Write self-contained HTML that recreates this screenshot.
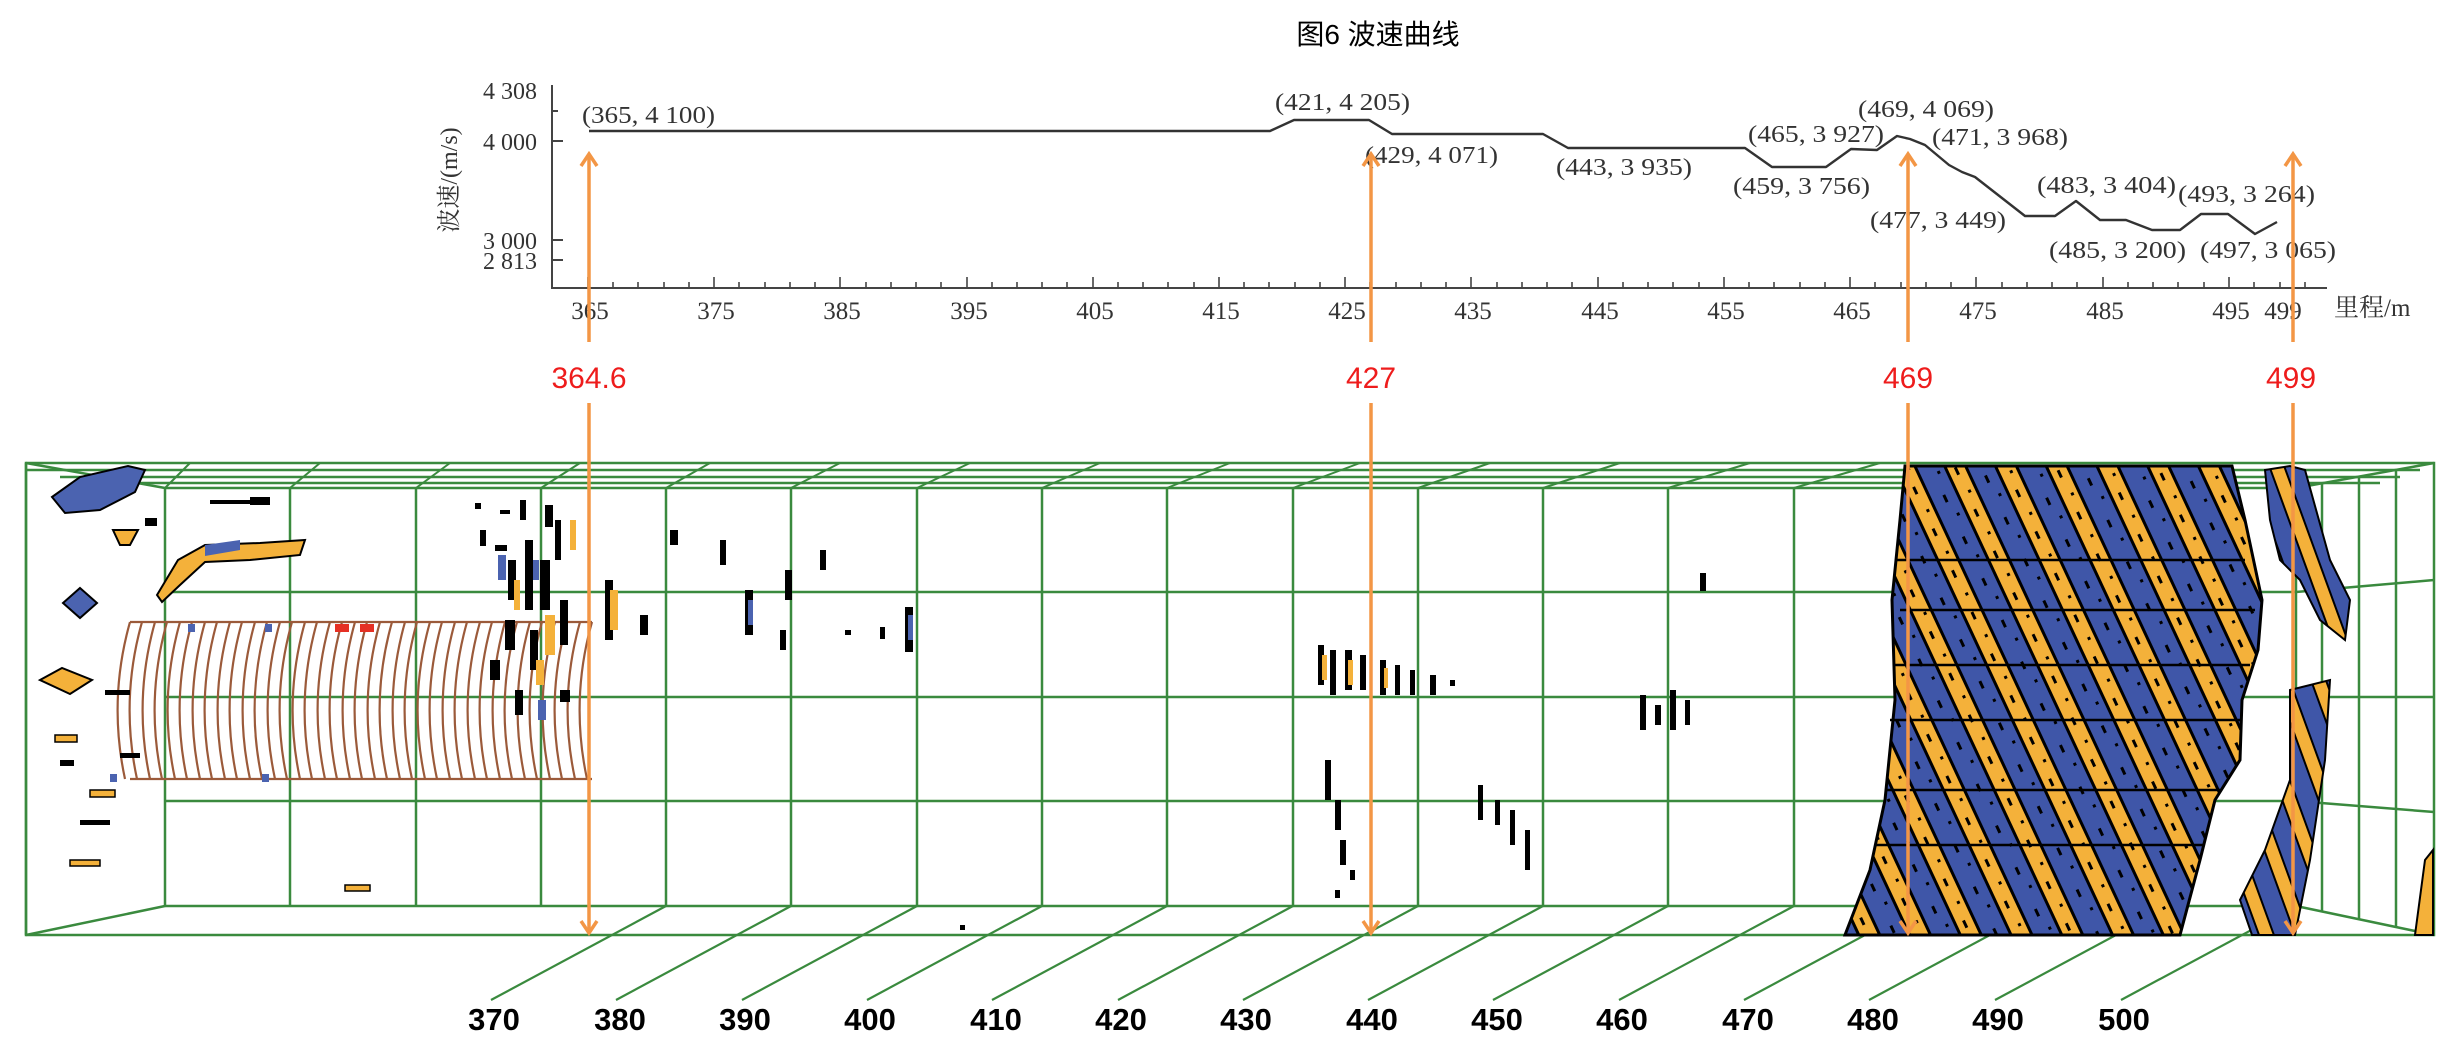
<!DOCTYPE html>
<html><head><meta charset="utf-8"><style>
html,body{margin:0;padding:0;background:#fff;}
svg{display:block;}
.s{font-family:"Liberation Serif","Noto Serif CJK SC",serif;fill:#333;}
.a{font-family:"Liberation Sans","Noto Sans CJK SC",sans-serif;}
</style></head><body>
<svg width="2445" height="1058" viewBox="0 0 2445 1058" xmlns="http://www.w3.org/2000/svg">
<defs>
<pattern id="rock" patternUnits="userSpaceOnUse" width="46" height="46" patternTransform="rotate(-25)">
<rect width="46" height="46" fill="#3f56a8"/>
<rect x="0" width="19" height="46" fill="#f4b13a"/>
<rect x="0" width="3" height="46" fill="#000"/>
<rect x="19" width="3" height="46" fill="#000"/>
<rect x="9" y="8" width="3" height="8" fill="#000"/>
<rect x="33" y="28" width="3" height="8" fill="#000"/>
<rect x="38" y="4" width="3" height="3" fill="#000"/>
<rect x="12" y="34" width="3" height="3" fill="#000"/>
</pattern>
<pattern id="rock2" patternUnits="userSpaceOnUse" width="34" height="34" patternTransform="rotate(-20)">
<rect width="34" height="34" fill="#3f56a8"/>
<rect x="0" width="14" height="34" fill="#f4b13a"/>
<rect x="0" width="2" height="34" fill="#000"/>
<rect x="14" width="2" height="34" fill="#000"/>
</pattern>
<marker id="ah" viewBox="0 0 20 20" refX="17" refY="10" markerWidth="20" markerHeight="20" markerUnits="userSpaceOnUse" orient="auto">
<path d="M5,2 L17,10 L5,18" fill="none" stroke="#f39645" stroke-width="3.5"/>
</marker>
</defs>

<text x="1378" y="44" text-anchor="middle" class="a" font-size="28" fill="#000">图6 波速曲线</text>

<g stroke="#444" stroke-width="2" fill="none">
<line x1="552" y1="85" x2="552" y2="288"/>
<line x1="551" y1="288" x2="2327" y2="288"/>
<line x1="552" y1="111" x2="558" y2="111"/>
<line x1="552" y1="141" x2="563" y2="141"/>
<line x1="552" y1="240" x2="563" y2="240"/>
<line x1="552" y1="260" x2="563" y2="260"/>
</g>
<g stroke="#444" stroke-width="1.6">
<line x1="588" y1="288" x2="588" y2="277"/><line x1="613" y1="288" x2="613" y2="282"/><line x1="638" y1="288" x2="638" y2="282"/><line x1="664" y1="288" x2="664" y2="282"/><line x1="689" y1="288" x2="689" y2="282"/>
<line x1="714" y1="288" x2="714" y2="277"/><line x1="739" y1="288" x2="739" y2="282"/><line x1="765" y1="288" x2="765" y2="282"/><line x1="790" y1="288" x2="790" y2="282"/><line x1="815" y1="288" x2="815" y2="282"/>
<line x1="840" y1="288" x2="840" y2="277"/><line x1="866" y1="288" x2="866" y2="282"/><line x1="891" y1="288" x2="891" y2="282"/><line x1="916" y1="288" x2="916" y2="282"/><line x1="941" y1="288" x2="941" y2="282"/>
<line x1="967" y1="288" x2="967" y2="277"/><line x1="992" y1="288" x2="992" y2="282"/><line x1="1017" y1="288" x2="1017" y2="282"/><line x1="1042" y1="288" x2="1042" y2="282"/><line x1="1067" y1="288" x2="1067" y2="282"/>
<line x1="1093" y1="288" x2="1093" y2="277"/><line x1="1118" y1="288" x2="1118" y2="282"/><line x1="1143" y1="288" x2="1143" y2="282"/><line x1="1168" y1="288" x2="1168" y2="282"/><line x1="1194" y1="288" x2="1194" y2="282"/>
<line x1="1219" y1="288" x2="1219" y2="277"/><line x1="1244" y1="288" x2="1244" y2="282"/><line x1="1269" y1="288" x2="1269" y2="282"/><line x1="1295" y1="288" x2="1295" y2="282"/><line x1="1320" y1="288" x2="1320" y2="282"/>
<line x1="1345" y1="288" x2="1345" y2="277"/><line x1="1370" y1="288" x2="1370" y2="282"/><line x1="1396" y1="288" x2="1396" y2="282"/><line x1="1421" y1="288" x2="1421" y2="282"/><line x1="1446" y1="288" x2="1446" y2="282"/>
<line x1="1471" y1="288" x2="1471" y2="277"/><line x1="1497" y1="288" x2="1497" y2="282"/><line x1="1522" y1="288" x2="1522" y2="282"/><line x1="1547" y1="288" x2="1547" y2="282"/><line x1="1572" y1="288" x2="1572" y2="282"/>
<line x1="1598" y1="288" x2="1598" y2="277"/><line x1="1623" y1="288" x2="1623" y2="282"/><line x1="1648" y1="288" x2="1648" y2="282"/><line x1="1673" y1="288" x2="1673" y2="282"/><line x1="1699" y1="288" x2="1699" y2="282"/>
<line x1="1724" y1="288" x2="1724" y2="277"/><line x1="1749" y1="288" x2="1749" y2="282"/><line x1="1774" y1="288" x2="1774" y2="282"/><line x1="1800" y1="288" x2="1800" y2="282"/><line x1="1825" y1="288" x2="1825" y2="282"/>
<line x1="1850" y1="288" x2="1850" y2="277"/><line x1="1875" y1="288" x2="1875" y2="282"/><line x1="1901" y1="288" x2="1901" y2="282"/><line x1="1926" y1="288" x2="1926" y2="282"/><line x1="1951" y1="288" x2="1951" y2="282"/>
<line x1="1976" y1="288" x2="1976" y2="277"/><line x1="2002" y1="288" x2="2002" y2="282"/><line x1="2027" y1="288" x2="2027" y2="282"/><line x1="2052" y1="288" x2="2052" y2="282"/><line x1="2077" y1="288" x2="2077" y2="282"/>
<line x1="2103" y1="288" x2="2103" y2="277"/><line x1="2128" y1="288" x2="2128" y2="282"/><line x1="2153" y1="288" x2="2153" y2="282"/><line x1="2178" y1="288" x2="2178" y2="282"/><line x1="2204" y1="288" x2="2204" y2="282"/>
<line x1="2229" y1="288" x2="2229" y2="277"/><line x1="2254" y1="288" x2="2254" y2="282"/><line x1="2280" y1="288" x2="2280" y2="282"/><line x1="2305" y1="288" x2="2305" y2="282"/>
</g>
<g class="s" font-size="24">
<text x="537" y="99" text-anchor="end">4 308</text>
<text x="537" y="150" text-anchor="end">4 000</text>
<text x="537" y="249" text-anchor="end">3 000</text>
<text x="537" y="269" text-anchor="end">2 813</text>
</g>
<text transform="translate(457,180) rotate(-90)" text-anchor="middle" class="s" font-size="24">波速/(m/s)</text>
<g class="s" font-size="25" text-anchor="middle">
<text x="590" y="319">365</text><text x="716" y="319">375</text><text x="842" y="319">385</text><text x="969" y="319">395</text>
<text x="1095" y="319">405</text><text x="1221" y="319">415</text><text x="1347" y="319">425</text><text x="1473" y="319">435</text>
<text x="1600" y="319">445</text><text x="1726" y="319">455</text><text x="1852" y="319">465</text><text x="1978" y="319">475</text>
<text x="2105" y="319">485</text><text x="2231" y="319">495</text><text x="2283" y="319">499</text>
</g>
<text x="2334" y="316" class="s" font-size="25">里程/m</text>

<polyline fill="none" stroke="#333" stroke-width="2.4" stroke-linejoin="round" points="589,131 1270,131 1294,120 1369,120 1392,134 1543,134 1568,148 1745,148 1772,167 1826,167 1851,149 1877,150 1897,136 1910,139 1925,145 1949,165 1962,172 1975,177 2025,216 2055,216 2076,201 2100,220 2126,220 2152,230 2180,230 2201,214 2228,214 2255,234 2277,222"/>

<g class="s" font-size="24">
<text x="582" y="123" textLength="133" lengthAdjust="spacingAndGlyphs">(365, 4 100)</text>
<text x="1275" y="110" textLength="135" lengthAdjust="spacingAndGlyphs">(421, 4 205)</text>
<text x="1365" y="163" textLength="133" lengthAdjust="spacingAndGlyphs">(429, 4 071)</text>
<text x="1556" y="175" textLength="136" lengthAdjust="spacingAndGlyphs">(443, 3 935)</text>
<text x="1748" y="142" textLength="136" lengthAdjust="spacingAndGlyphs">(465, 3 927)</text>
<text x="1858" y="117" textLength="136" lengthAdjust="spacingAndGlyphs">(469, 4 069)</text>
<text x="1932" y="145" textLength="136" lengthAdjust="spacingAndGlyphs">(471, 3 968)</text>
<text x="1733" y="194" textLength="137" lengthAdjust="spacingAndGlyphs">(459, 3 756)</text>
<text x="1870" y="228" textLength="136" lengthAdjust="spacingAndGlyphs">(477, 3 449)</text>
<text x="2037" y="193" textLength="139" lengthAdjust="spacingAndGlyphs">(483, 3 404)</text>
<text x="2178" y="202" textLength="137" lengthAdjust="spacingAndGlyphs">(493, 3 264)</text>
<text x="2049" y="258" textLength="137" lengthAdjust="spacingAndGlyphs">(485, 3 200)</text>
<text x="2200" y="258" textLength="136" lengthAdjust="spacingAndGlyphs">(497, 3 065)</text>
</g>

<g stroke="#3a8a3e" stroke-width="2.5" fill="none">
<rect x="26" y="463" width="2408" height="472"/>
<line x1="26" y1="470" x2="2420" y2="470"/>
<line x1="60" y1="477" x2="2400" y2="477"/>
<line x1="100" y1="483" x2="2380" y2="483"/>
<line x1="165" y1="488" x2="2296" y2="488"/>
<line x1="165" y1="592" x2="2296" y2="592"/>
<line x1="165" y1="697" x2="2296" y2="697"/>
<line x1="165" y1="801" x2="2296" y2="801"/>
<line x1="165" y1="906" x2="2296" y2="906"/>
<line x1="26" y1="463" x2="165" y2="488"/>
<line x1="26" y1="935" x2="165" y2="906"/>
<line x1="2434" y1="463" x2="2296" y2="488"/>
<line x1="2434" y1="935" x2="2296" y2="906"/>
<line x1="2296" y1="592" x2="2434" y2="580"/>
<line x1="2296" y1="697" x2="2434" y2="697"/>
<line x1="2296" y1="801" x2="2434" y2="812"/>
<line x1="2322" y1="482" x2="2322" y2="912"/>
<line x1="2359" y1="476" x2="2359" y2="920"/>
<line x1="2396" y1="470" x2="2396" y2="928"/>
</g>
<g stroke="#3a8a3e" stroke-width="2.5">
<line x1="165" y1="488" x2="165" y2="906"/><line x1="290" y1="488" x2="290" y2="906"/><line x1="416" y1="488" x2="416" y2="906"/><line x1="541" y1="488" x2="541" y2="906"/>
<line x1="666" y1="488" x2="666" y2="906"/><line x1="791" y1="488" x2="791" y2="906"/><line x1="917" y1="488" x2="917" y2="906"/><line x1="1042" y1="488" x2="1042" y2="906"/>
<line x1="1167" y1="488" x2="1167" y2="906"/><line x1="1293" y1="488" x2="1293" y2="906"/><line x1="1418" y1="488" x2="1418" y2="906"/><line x1="1543" y1="488" x2="1543" y2="906"/>
<line x1="1668" y1="488" x2="1668" y2="906"/><line x1="1794" y1="488" x2="1794" y2="906"/><line x1="1919" y1="488" x2="1919" y2="906"/><line x1="2044" y1="488" x2="2044" y2="906"/>
<line x1="2170" y1="488" x2="2170" y2="906"/><line x1="2296" y1="488" x2="2296" y2="906"/>
<line x1="26" y1="463" x2="26" y2="935"/>
</g>
<g stroke="#3a8a3e" stroke-width="2">
<line x1="190" y1="463" x2="165" y2="488"/><line x1="320" y1="463" x2="290" y2="488"/><line x1="450" y1="463" x2="416" y2="488"/>
<line x1="580" y1="463" x2="541" y2="488"/><line x1="710" y1="463" x2="666" y2="488"/><line x1="840" y1="463" x2="791" y2="488"/>
<line x1="970" y1="463" x2="917" y2="488"/><line x1="1100" y1="463" x2="1042" y2="488"/><line x1="1230" y1="463" x2="1167" y2="488"/>
<line x1="1360" y1="463" x2="1293" y2="488"/><line x1="1490" y1="463" x2="1418" y2="488"/><line x1="1620" y1="463" x2="1543" y2="488"/>
<line x1="1750" y1="463" x2="1668" y2="488"/><line x1="1880" y1="463" x2="1794" y2="488"/>
</g>
<g stroke="#3a8a3e" stroke-width="2.2">
<line x1="666" y1="906" x2="491" y2="1000"/><line x1="791" y1="906" x2="616" y2="1000"/><line x1="917" y1="906" x2="742" y2="1000"/>
<line x1="1042" y1="906" x2="867" y2="1000"/><line x1="1167" y1="906" x2="992" y2="1000"/><line x1="1293" y1="906" x2="1118" y2="1000"/>
<line x1="1418" y1="906" x2="1243" y2="1000"/><line x1="1543" y1="906" x2="1368" y2="1000"/><line x1="1668" y1="906" x2="1493" y2="1000"/>
<line x1="1794" y1="906" x2="1619" y2="1000"/><line x1="1919" y1="906" x2="1744" y2="1000"/><line x1="2044" y1="906" x2="1869" y2="1000"/>
<line x1="2170" y1="906" x2="1995" y2="1000"/><line x1="2296" y1="906" x2="2121" y2="1000"/>
</g>
<g class="a" font-size="31" fill="#000" text-anchor="middle" font-weight="bold">
<text x="494" y="1030">370</text><text x="620" y="1030">380</text><text x="745" y="1030">390</text><text x="870" y="1030">400</text>
<text x="996" y="1030">410</text><text x="1121" y="1030">420</text><text x="1246" y="1030">430</text><text x="1372" y="1030">440</text>
<text x="1497" y="1030">450</text><text x="1622" y="1030">460</text><text x="1748" y="1030">470</text><text x="1873" y="1030">480</text>
<text x="1998" y="1030">490</text><text x="2124" y="1030">500</text>
</g>

<g stroke="#9b5a3a" stroke-width="2.2" fill="none">
<line x1="130" y1="622" x2="592" y2="622"/>
<line x1="130" y1="779" x2="592" y2="779"/>
<path d="M130,622 Q108,700 125,779 M142,622 Q120,700 137,779 M155,622 Q133,700 150,779 M167,622 Q145,700 162,779 M180,622 Q158,700 175,779 M192,622 Q170,700 187,779 M205,622 Q183,700 200,779 M217,622 Q195,700 212,779 M230,622 Q208,700 225,779 M242,622 Q220,700 237,779 M255,622 Q233,700 250,779 M267,622 Q245,700 262,779 M280,622 Q258,700 275,779 M292,622 Q270,700 287,779 M305,622 Q283,700 300,779 M317,622 Q295,700 312,779 M330,622 Q308,700 325,779 M342,622 Q320,700 337,779 M355,622 Q333,700 350,779 M367,622 Q345,700 362,779 M380,622 Q358,700 375,779 M392,622 Q370,700 387,779 M405,622 Q383,700 400,779 M417,622 Q395,700 412,779 M430,622 Q408,700 425,779 M442,622 Q420,700 437,779 M455,622 Q433,700 450,779 M467,622 Q445,700 462,779 M480,622 Q458,700 475,779 M492,622 Q470,700 487,779 M505,622 Q483,700 500,779 M517,622 Q495,700 512,779 M530,622 Q508,700 525,779 M542,622 Q520,700 537,779 M555,622 Q533,700 550,779 M567,622 Q545,700 562,779 M580,622 Q558,700 575,779 M592,622 Q570,700 587,779"/>
</g>
<g fill="#e53024"><rect x="335" y="624" width="14" height="8"/><rect x="360" y="624" width="14" height="8"/></g>
<g fill="#4b63b0"><rect x="188" y="624" width="7" height="8"/><rect x="265" y="624" width="7" height="8"/><rect x="110" y="774" width="7" height="8"/><rect x="262" y="774" width="7" height="8"/></g>

<polygon fill="url(#rock)" stroke="#000" stroke-width="3" points="1905,466 2232,466 2245,520 2262,600 2258,650 2242,700 2240,760 2215,800 2200,860 2180,935 1845,935 1870,870 1885,800 1895,700 1892,600 1900,520"/>
<g stroke="#000" stroke-width="2.5">
<line x1="1895" y1="560" x2="2245" y2="560"/><line x1="1900" y1="610" x2="2255" y2="610"/><line x1="1895" y1="665" x2="2250" y2="665"/>
<line x1="1890" y1="720" x2="2240" y2="720"/><line x1="1885" y1="790" x2="2220" y2="790"/><line x1="1875" y1="845" x2="2205" y2="845"/>
</g>
<polygon fill="url(#rock2)" stroke="#000" stroke-width="2" points="2265,470 2290,466 2305,470 2330,560 2350,600 2345,640 2320,620 2300,580 2280,560 2270,520"/>
<polygon fill="url(#rock2)" stroke="#000" stroke-width="2" points="2290,690 2330,680 2325,760 2310,860 2295,935 2252,935 2240,900 2265,850 2290,780"/>
<polygon fill="#f4b13a" stroke="#000" stroke-width="2" points="2415,935 2425,860 2433,850 2433,935"/>

<polygon fill="#4b63b0" stroke="#000" stroke-width="2" points="52,497 80,477 128,466 145,470 135,492 100,510 65,513"/>
<polygon fill="#f4b13a" stroke="#000" stroke-width="2" points="113,530 138,530 130,545 120,545"/>
<polygon fill="#4b63b0" stroke="#000" stroke-width="2" points="80,588 97,603 80,618 63,603"/>
<polygon fill="#f4b13a" stroke="#000" stroke-width="2" points="40,680 62,668 92,680 70,694"/>
<polygon fill="#f4b13a" stroke="#000" stroke-width="2" points="157,595 178,560 205,545 260,543 305,540 300,555 250,560 205,562 180,585 162,602"/>
<polygon fill="#4b63b0" points="205,545 240,540 240,550 205,556"/>
<g fill="#000"><rect x="210" y="500" width="55" height="4"/><rect x="250" y="497" width="20" height="8"/><rect x="145" y="518" width="12" height="8"/><rect x="105" y="690" width="25" height="5"/><rect x="120" y="753" width="20" height="5"/><rect x="60" y="760" width="14" height="6"/><rect x="80" y="820" width="30" height="5"/></g>
<g fill="#f4b13a" stroke="#000" stroke-width="1.5"><rect x="55" y="735" width="22" height="7"/><rect x="90" y="790" width="25" height="7"/><rect x="70" y="860" width="30" height="6"/><rect x="345" y="885" width="25" height="6"/></g>

<g fill="#000">
<rect x="475" y="503" width="6" height="6"/><rect x="500" y="510" width="10" height="4"/><rect x="520" y="500" width="6" height="20"/><rect x="545" y="505" width="8" height="22"/>
<rect x="480" y="530" width="6" height="16"/><rect x="495" y="545" width="12" height="6"/><rect x="508" y="560" width="8" height="40"/><rect x="525" y="540" width="8" height="70"/>
<rect x="540" y="560" width="10" height="50"/><rect x="555" y="520" width="6" height="40"/><rect x="505" y="620" width="10" height="30"/><rect x="530" y="630" width="8" height="40"/>
<rect x="560" y="600" width="8" height="45"/><rect x="490" y="660" width="10" height="20"/><rect x="515" y="690" width="8" height="25"/><rect x="560" y="690" width="10" height="12"/>
<rect x="605" y="580" width="8" height="60"/><rect x="640" y="615" width="8" height="20"/><rect x="670" y="530" width="8" height="15"/><rect x="720" y="540" width="6" height="25"/>
<rect x="745" y="590" width="8" height="45"/><rect x="785" y="570" width="7" height="30"/><rect x="780" y="630" width="6" height="20"/><rect x="820" y="550" width="6" height="20"/>
<rect x="880" y="627" width="5" height="12"/><rect x="905" y="607" width="8" height="45"/><rect x="845" y="630" width="6" height="5"/>
</g>
<g fill="#f4b13a"><rect x="514" y="580" width="6" height="30"/><rect x="545" y="615" width="10" height="40"/><rect x="570" y="520" width="6" height="30"/><rect x="610" y="590" width="8" height="40"/><rect x="536" y="660" width="8" height="25"/></g>
<g fill="#4b63b0"><rect x="498" y="555" width="8" height="25"/><rect x="533" y="560" width="6" height="20"/><rect x="748" y="600" width="5" height="25"/><rect x="908" y="615" width="5" height="25"/><rect x="538" y="700" width="8" height="20"/></g>

<g fill="#000">
<rect x="1318" y="645" width="6" height="40"/><rect x="1330" y="650" width="6" height="45"/><rect x="1345" y="650" width="7" height="40"/><rect x="1360" y="655" width="6" height="35"/>
<rect x="1380" y="660" width="6" height="35"/><rect x="1395" y="665" width="5" height="30"/><rect x="1410" y="670" width="5" height="25"/><rect x="1430" y="675" width="6" height="20"/><rect x="1450" y="680" width="5" height="6"/>
<rect x="1325" y="760" width="6" height="40"/><rect x="1335" y="800" width="6" height="30"/><rect x="1340" y="840" width="6" height="25"/><rect x="1350" y="870" width="5" height="10"/><rect x="1335" y="890" width="5" height="8"/>
<rect x="1478" y="785" width="5" height="35"/><rect x="1495" y="800" width="5" height="25"/><rect x="1510" y="810" width="5" height="35"/><rect x="1525" y="830" width="5" height="40"/>
<rect x="1640" y="695" width="6" height="35"/><rect x="1655" y="705" width="6" height="20"/><rect x="1670" y="690" width="6" height="40"/><rect x="1685" y="700" width="5" height="25"/>
<rect x="1700" y="573" width="6" height="18"/><rect x="960" y="925" width="5" height="5"/>
</g>
<g fill="#f4b13a"><rect x="1322" y="655" width="5" height="25"/><rect x="1348" y="660" width="5" height="25"/><rect x="1384" y="668" width="4" height="20"/></g>

<g stroke="#f39645" stroke-width="3.5" fill="none">
<line x1="589" y1="342" x2="589" y2="154" marker-end="url(#ah)"/>
<line x1="1371" y1="342" x2="1371" y2="154" marker-end="url(#ah)"/>
<line x1="1908" y1="342" x2="1908" y2="154" marker-end="url(#ah)"/>
<line x1="2293" y1="342" x2="2293" y2="154" marker-end="url(#ah)"/>
<line x1="589" y1="403" x2="589" y2="933" marker-end="url(#ah)"/>
<line x1="1371" y1="403" x2="1371" y2="933" marker-end="url(#ah)"/>
<line x1="1908" y1="403" x2="1908" y2="933" marker-end="url(#ah)"/>
<line x1="2293" y1="403" x2="2293" y2="933" marker-end="url(#ah)"/>
</g>
<g class="a" font-size="30" fill="#ee1c1c" text-anchor="middle">
<text x="589" y="388">364.6</text>
<text x="1371" y="388">427</text>
<text x="1908" y="388">469</text>
<text x="2291" y="388">499</text>
</g>
</svg>
</body></html>
